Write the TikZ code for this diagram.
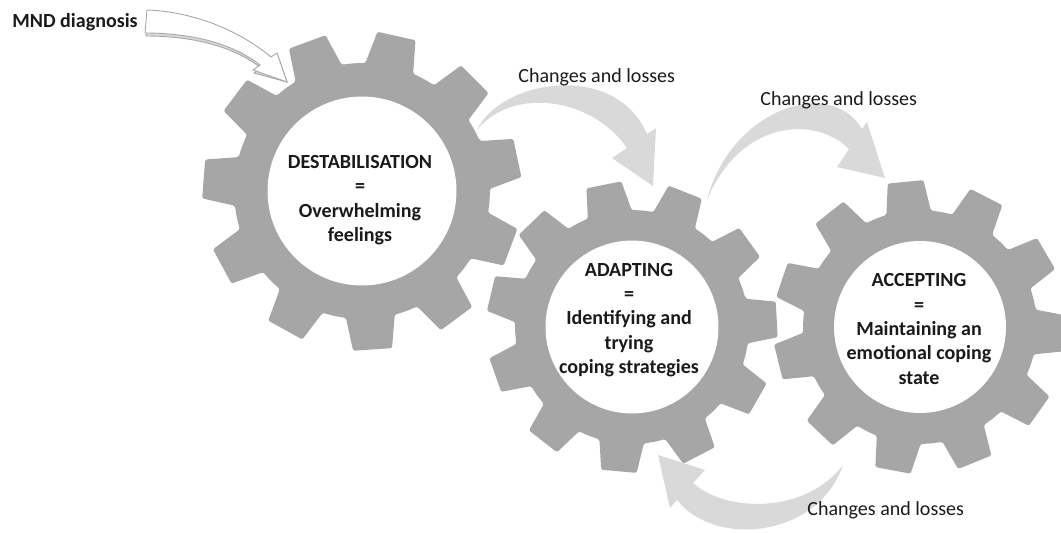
\documentclass[tikz,border=0pt]{standalone}
\usepackage{fontspec}
\setmainfont{Carlito}
\usetikzlibrary{calc}

\definecolor{gearfill}{HTML}{A6A6A6}
\definecolor{lossfill}{HTML}{D9D9D9}
\definecolor{inktext}{HTML}{1A1A1A}

% eleven teeth: #1,#2 centre, #3 tip radius, #4 root radius, #5 turn
\newcommand{\gearshape}[5]{%
  \fill[gearbody, shift={(#1,#2)}] ({#5-11}:#4)
    \foreach \k in {0,...,10}{
      -- ({#5+\k*32.7273-11}:#4) -- ({#5+\k*32.7273-7}:#3)
      -- ({#5+\k*32.7273+7}:#3) -- ({#5+\k*32.7273+11}:#4)
      -- ({#5+\k*32.7273+16.36}:#4)
    } -- cycle;}

\tikzset{
  gearbody/.style={fill=gearfill, rounded corners=1.2pt},
  gearhole/.style={circle, fill=white, inner sep=0pt},
  gearlabel/.style={align=center, inner sep=0pt, text=inktext,
    font=\bfseries\fontsize{11.4}{13.9}\selectfont},
  losslabel/.style={inner sep=0pt, text=inktext,
    font=\fontsize{11.4}{13.9}\selectfont},
  lossarrow/.style={fill=lossfill}
}

\begin{document}
\begin{tikzpicture}[x=0.02cm, y=-0.02cm]
	\useasboundingbox (0,0) rectangle (1061,532);

	% the three gears
	\gearshape{362}{191}{160}{128}{-12}
	\gearshape{632}{327}{146}{117}{-3}
	\gearshape{920}{327}{147}{117}{2.5}

	\node[gearhole, minimum size=3.78cm] (destab) at (362,191) {};
	\node[gearhole, minimum size=3.46cm] (adapt) at (632,327) {};
	\node[gearhole, minimum size=3.44cm] (accept) at (920,327) {};

	\node[gearlabel] (destabtext) at (360,200) {DESTABILISATION\\=\\Overwhelming\\feelings};
	\node[gearlabel] (adapttext) at (629,320) {ADAPTING\\=\\Identifying and\\trying\\coping strategies};
	\node[gearlabel] (accepttext) at (919,329) {ACCEPTING\\=\\Maintaining an\\emotional coping\\state};

	% diagnosis arrow
	\coordinate (mndtail) at (146,22);
	\coordinate (mndtip) at (287,82);
	\node[losslabel, font=\bfseries\fontsize{11.4}{13.9}\selectfont, anchor=base west] (mnd) at (12,27) {MND diagnosis};
	\begin{scope}[shift={(1,3)}]
		\filldraw[fill=gray!30, draw=gray!70, line width=0.5pt] (147,10) .. controls (200,12) and (245,35) .. (271,57) -- (277,53) -- ($(mndtip)$) -- (253,70) -- (260,65) .. controls (235,45) and (195,33) .. (145,33) -- cycle;
	\end{scope}
	\filldraw[fill=white, draw=gray!70, line width=0.5pt] (147,10) .. controls (200,12) and (245,35) .. (271,57) -- (277,53) -- (mndtip) -- (253,70) -- (260,65) .. controls (235,45) and (195,33) .. (145,33) -- cycle;

	% changes and losses
	\coordinate (loss1tail) at (477,130);
	\coordinate (loss1tip) at (653,186);
	\fill[lossarrow] (loss1tail) .. controls (500,80) and (615,60) .. (647,134) -- (656,128) -- (loss1tip) -- (612,158) -- (627,148) .. controls (590,95) and (510,88) .. (loss1tail) -- cycle;

	\coordinate (loss2tail) at (707,200);
	\coordinate (loss2tip) at (885,178);
	\fill[lossarrow] (loss2tail) .. controls (730,110) and (830,75) .. (862,129) -- (867,122) -- (loss2tip) -- (837,167) -- (849,149) .. controls (815,115) and (740,120) .. (loss2tail) -- cycle;

	\coordinate (loss3tail) at (843,465);
	\coordinate (loss3tip) at (658,455);
	\fill[lossarrow] (loss3tail) .. controls (818,538) and (715,548) .. (677,500) -- (670,508) -- (loss3tip) -- (705,470) -- (693,483) .. controls (725,512) and (805,515) .. (loss3tail) -- cycle;

	\node[losslabel, anchor=base west] (loss1) at (518,82) {Changes and losses};
	\node[losslabel, anchor=base west] (loss2) at (760,105) {Changes and losses};
	\node[losslabel, anchor=base west] (loss3) at (807,515) {Changes and losses};
\end{tikzpicture}
\end{document}
